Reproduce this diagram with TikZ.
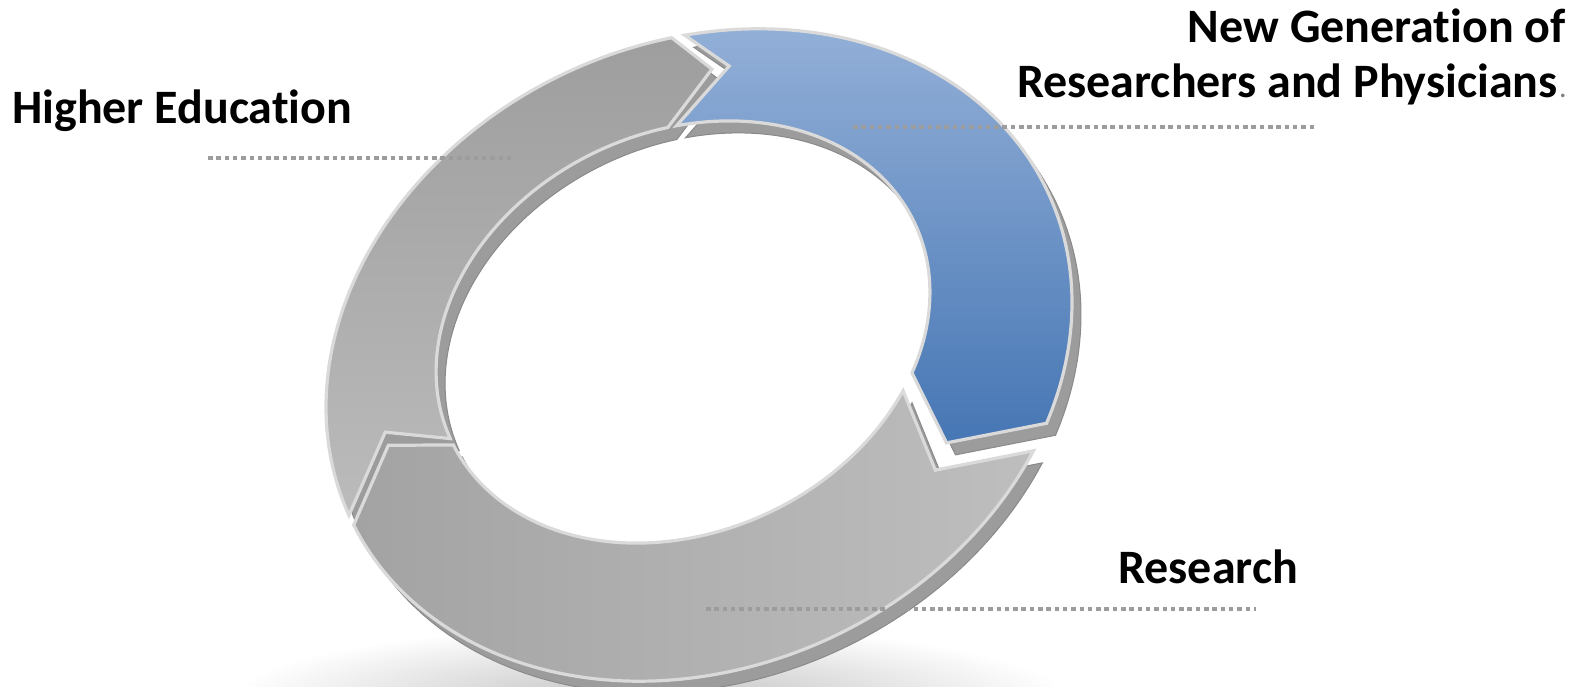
\documentclass[tikz,border=0pt]{standalone}
\usepackage{fontspec}
\setmainfont{Carlito}[Ligatures=NoCommon]
\definecolor{rim}{HTML}{DADADA}
\definecolor{sidegray}{HTML}{9C9C9C}
\definecolor{sidedark}{HTML}{8A8A8A}
\definecolor{heTop}{HTML}{9E9E9E}
\definecolor{heBot}{HTML}{BBBBBB}
\definecolor{reLeft}{HTML}{A3A3A3}
\definecolor{reRight}{HTML}{BEBEBE}
\definecolor{blTop}{HTML}{92AFD7}
\definecolor{blBot}{HTML}{4676B4}
\definecolor{leadgray}{HTML}{9C9C9C}
\newcommand\segpath[6]{plot[domain=#1:#2,samples=90] ({px(\x,1)},{py(\x,1)}) -- ({px(#3,#5)},{py(#3,#5)}) -- plot[domain=#2:#1,samples=90] ({px(\x,0)},{py(\x,0)}) -- ({px(#4,#6)},{py(#4,#6)}) -- cycle}
\begin{document}
\begin{tikzpicture}[x=1pt,y=-1pt,
  declare function={
    px(\t,\f)=683+16*\f+(256+129*\f)*cos(\t)*0.9063+(200+112*\f)*sin(\t)*0.4226;
    py(\t,\f)=332+23*\f-(256+129*\f)*cos(\t)*0.4226+(200+112*\f)*sin(\t)*0.9063;
  },
  side/.style={fill=sidegray, draw=sidedark, line width=1pt},
  topface/.style={draw=rim, line width=3.2pt},
  leader/.style={draw=leadgray, line width=4pt, dash pattern=on 4.5pt off 3.8pt},
  lbl/.style={font=\fontsize{48}{58}\selectfont\bfseries, inner sep=0pt}
]
\useasboundingbox (0,0) rectangle (1589,687);
% shadow
\shade[inner color=black!25, outer color=white] (650,700) ellipse (420 and 75);
% side faces
\begin{scope}[shift={(9,12)}]
  \path[side] \segpath{47}{178.5}{188}{58.4}{0.5}{0.5};
  \path[side] \segpath{180.5}{286.5}{294}{191}{0.58}{0.5};
  \path[side] \segpath{288.5}{402}{412.8}{297}{0.45}{0.6};
\end{scope}
% top faces
\path[topface, left color=reLeft, right color=reRight] \segpath{47}{178.5}{188}{58.4}{0.5}{0.5};
\path[topface, top color=heTop, bottom color=heBot] \segpath{180.5}{286.5}{294}{191}{0.58}{0.5};
\path[topface, top color=blTop, bottom color=blBot] \segpath{288.5}{402}{412.8}{297}{0.45}{0.6};
% leader lines
\coordinate (heA) at (208,158);
\coordinate (heB) at (512,158);
\coordinate (ngA) at (853,127);
\coordinate (ngB) at (1315,127);
\coordinate (reA) at (706,609);
\coordinate (reB) at (1256,609);
\draw[leader] (heA) -- (heB);
\draw[leader] (ngA) -- (ngB);
\draw[leader] (reA) -- (reB);
% labels
\node[lbl, anchor=base west] (he) at (12,124) {Higher Education};
\node[lbl, anchor=base east] (ng1) at (1566,43) {New Generation of};
\node[lbl, anchor=base east] (ng2) at (1558,98) {Researchers and Physicians};
\node[font=\fontsize{30}{36}\selectfont, text=gray, inner sep=0pt, anchor=base west] (ngdot) at ([xshift=1pt]ng2.base east) {.};
\node[lbl, anchor=base west] (re) at (1118,583) {Research};
\end{tikzpicture}
\end{document}
